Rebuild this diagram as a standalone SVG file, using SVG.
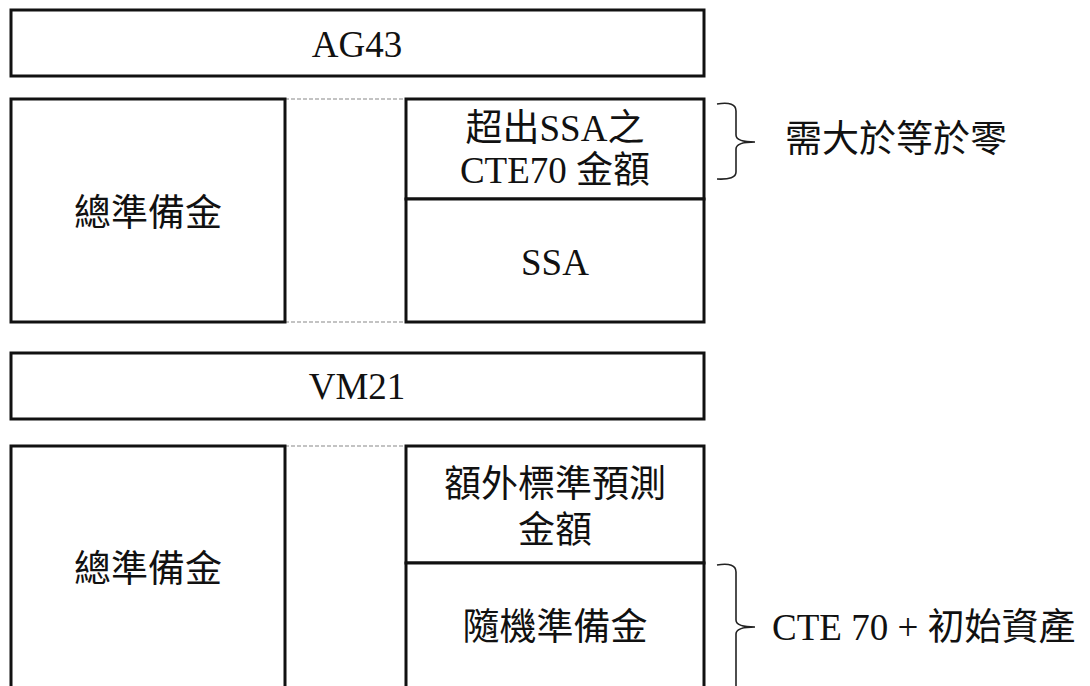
<svg xmlns="http://www.w3.org/2000/svg" width="1090" height="686" viewBox="0 0 1090 686">
<style>
.box{fill:#fff;stroke:#111;stroke-width:3}
.dash{stroke:#888;stroke-width:1.2;stroke-dasharray:4 2;fill:none}
.br{stroke:#222;stroke-width:1.6;fill:none}
text{font-family:"Liberation Serif","Noto Sans CJK TC",serif;font-size:37px;fill:#111}
.cjk{font-family:"Noto Sans CJK TC",sans-serif}
.lat{font-family:"Liberation Serif",serif}
.c{text-anchor:middle}
</style>
<rect width="1090" height="686" fill="#fff"/>
<g id="connectors">
<line class="dash" x1="285" y1="99" x2="406" y2="99"/>
<line class="dash" x1="285" y1="322" x2="406" y2="322"/>
<line class="dash" x1="285" y1="446" x2="406" y2="446"/>
<path class="br" d="M717,104 Q736,101 736,111 L736,135 Q736,142 755,142 Q736,142 736,149 L736,172 Q736,180 717,179"/>
<path class="br" d="M717,565 Q736,562 736,572 L736,620 Q736,627 755,627 Q736,627 736,634 L736,700"/>
</g>
<g id="ag43">
<rect class="box" x="11" y="10" width="693" height="66"/>
<text class="c lat" x="357" y="57">AG43</text>
</g>
<g id="ag43-total">
<rect class="box" x="11" y="99" width="274" height="223"/>
<text class="c cjk" x="148" y="226">總準備金</text>
</g>
<g id="ag43-excess">
<rect class="box" x="406" y="99" width="298" height="100"/>
<text class="c" x="555" y="141"><tspan class="cjk">超出</tspan><tspan class="lat">SSA</tspan><tspan class="cjk">之</tspan></text>
<text class="c" x="555" y="183"><tspan class="lat">CTE70 </tspan><tspan class="cjk">金額</tspan></text>
</g>
<g id="ag43-ssa">
<rect class="box" x="406" y="199" width="298" height="123"/>
<text class="c lat" x="555" y="275">SSA</text>
</g>
<g id="ag43-note">
<text class="cjk" x="785" y="152">需大於等於零</text>
</g>
<g id="vm21">
<rect class="box" x="11" y="353" width="693" height="66"/>
<text class="c lat" x="357" y="399">VM21</text>
</g>
<g id="vm21-total">
<rect class="box" x="11" y="446" width="274" height="260"/>
<text class="c cjk" x="148" y="582">總準備金</text>
</g>
<g id="vm21-extra">
<rect class="box" x="406" y="446" width="298" height="117"/>
<text class="c cjk" x="555" y="497">額外標準預測</text>
<text class="c cjk" x="555" y="543">金額</text>
</g>
<g id="vm21-stochastic">
<rect class="box" x="406" y="563" width="298" height="143"/>
<text class="c cjk" x="555" y="640">隨機準備金</text>
</g>
<g id="vm21-note">
<text x="772" y="640"><tspan class="lat">CTE 70 + </tspan><tspan class="cjk">初始資產</tspan></text>
</g>
</svg>
